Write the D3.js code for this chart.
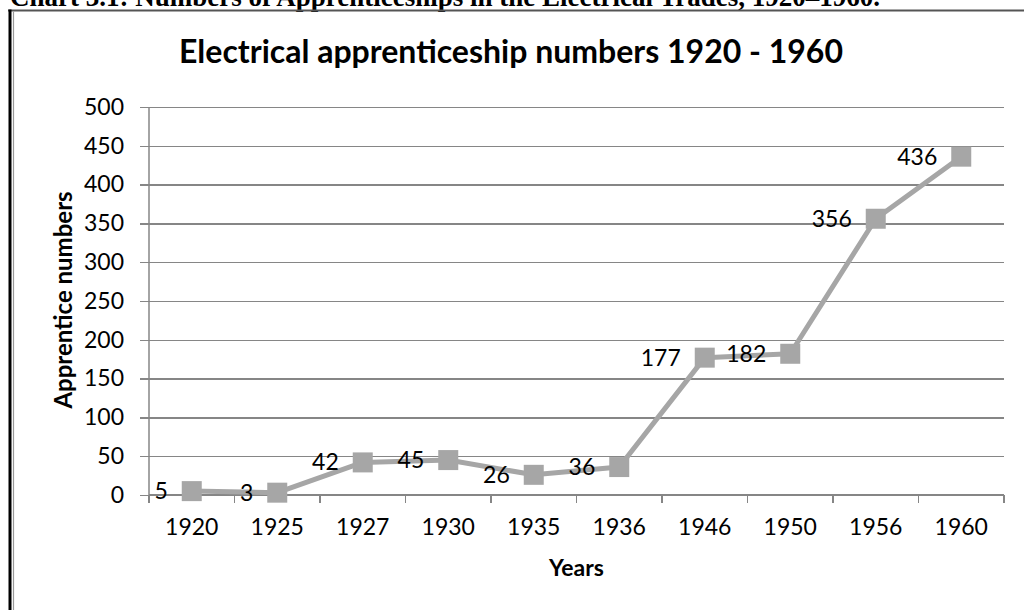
<!DOCTYPE html>
<meta charset="utf-8">
<style>
body{ margin:0; background:#fff; }
.axis text{ font-family: Lato, "Open Sans", sans-serif; font-size:23px; fill:#000; }
.axis path, .axis line{ fill:none; stroke:#868686; stroke-width:1.5px; shape-rendering:crispEdges; }
.grid line{ stroke:#868686; stroke-width:1.5px; shape-rendering:crispEdges; }
.grid path{ display:none; }
.lbl{ font-family: Lato, "Open Sans", sans-serif; font-size:23px; fill:#000; }
</style>
<svg class="chart" width="1024" height="610"></svg>
<script src="https://cdn.jsdelivr.net/npm/d3@7/dist/d3.min.js"></script>
<script>
var years = ["1920","1925","1927","1930","1935","1936","1946","1950","1956","1960"];
var apprentices = [5, 3, 42, 45, 26, 36, 177, 182, 356, 436];
var yTicks = [0, 50, 100, 150, 200, 250, 300, 350, 400, 450, 500];

var data = years.map(function(d, i){ return {year: d, value: apprentices[i]}; });

var margin = {top: 107, right: 20, bottom: 115, left: 149};
var width = 1004 - margin.left,
	height = 495 - margin.top;

var svg = d3.select(".chart");

// page caption, cut off by the top of the picture (as in the source)
svg.append("text")
	.attr("x", 10)
	.attr("y", 6)
	.style("font-family", "'Liberation Serif', 'Times New Roman', serif")
	.style("font-weight", "bold")
	.style("font-size", "27px")
	.text("Chart 3.1: Numbers of Apprenticeships in the Electrical Trades, 1920\u20131960.");

// frame
svg.append("line").attr("x1", 8).attr("x2", 1024).attr("y1", 10.5).attr("y2", 10.5)
	.style("stroke", "#555").style("stroke-width", 2);
svg.append("line").attr("x1", 10).attr("x2", 10).attr("y1", 9.5).attr("y2", 610)
	.style("stroke", "#000").style("stroke-width", 3);
svg.append("line").attr("x1", 13.5).attr("x2", 13.5).attr("y1", 11.5).attr("y2", 610)
	.style("stroke", "#999").style("stroke-width", 1.2);

var x = d3.scaleBand()
	.domain(years)
	.range([0, width])
	.padding(0);

var y = d3.scaleLinear()
	.domain([0, 500])
	.range([height, 0]);

var chart = svg.append("g")
	.attr("transform", "translate(" + margin.left + "," + margin.top + ")");

// gridlines
chart.append("g")
	.attr("class", "grid")
	.call(d3.axisLeft(y).tickValues(yTicks).tickSize(-width).tickFormat(""));

// y axis
chart.append("g")
	.attr("class", "y axis")
	.call(d3.axisLeft(y).tickValues(yTicks).tickSize(9).tickPadding(16))
	.call(function(g){ g.select(".domain").remove(); });
chart.append("line")
	.attr("x1", 0).attr("x2", 0).attr("y1", 0).attr("y2", height)
	.style("stroke", "#868686").style("stroke-width", 1.5);

// x axis, ticks on category boundaries
var xg = chart.append("g")
	.attr("class", "x axis")
	.attr("transform", "translate(0," + height + ")")
	.call(d3.axisBottom(x).tickSize(0).tickPadding(24));
xg.select(".domain").remove();
xg.append("line")
	.attr("x1", 0).attr("x2", width)
	.style("stroke", "#868686").style("stroke-width", 1.5);
xg.selectAll(".bound")
	.data(years.concat(["end"]))
	.enter().append("line")
	.attr("class", "bound")
	.attr("x1", function(d){ return d === "end" ? x.range()[1] : x(d); })
	.attr("x2", function(d){ return d === "end" ? x.range()[1] : x(d); })
	.attr("y1", 0).attr("y2", 8);

// series line
var line = d3.line()
	.x(function(d){ return x(d.year) + x.bandwidth() / 2; })
	.y(function(d){ return y(d.value); });

chart.append("path")
	.datum(data)
	.attr("d", line)
	.style("fill", "none")
	.style("stroke", "#a6a6a6")
	.style("stroke-width", 5)
	.style("stroke-linejoin", "round");

chart.selectAll(".marker")
	.data(data)
	.enter().append("rect")
	.attr("class", "marker")
	.attr("x", function(d){ return x(d.year) + x.bandwidth() / 2 - 10; })
	.attr("y", function(d){ return y(d.value) - 10; })
	.attr("width", 20)
	.attr("height", 20)
	.style("fill", "#a6a6a6");

chart.selectAll(".lbl")
	.data(data)
	.enter().append("text")
	.attr("class", "lbl")
	.attr("x", function(d){ return x(d.year) + x.bandwidth() / 2 - 24; })
	.attr("y", function(d){ return y(d.value); })
	.attr("dy", "0.35em")
	.attr("text-anchor", "end")
	.text(function(d){ return d.value; });

// titles
svg.append("text")
	.attr("x", 511)
	.attr("y", 63)
	.attr("text-anchor", "middle")
	.style("font-family", "Lato, 'Open Sans', sans-serif")
	.style("font-weight", "bold")
	.style("font-size", "32px")
	.text("Electrical apprenticeship numbers 1920 - 1960");

svg.append("text")
	.attr("x", margin.left + width / 2)
	.attr("y", 576)
	.attr("text-anchor", "middle")
	.style("font-family", "Lato, 'Open Sans', sans-serif")
	.style("font-weight", "bold")
	.style("font-size", "23px")
	.text("Years");

svg.append("text")
	.attr("transform", "translate(72,300) rotate(-90)")
	.attr("text-anchor", "middle")
	.style("font-family", "Lato, 'Open Sans', sans-serif")
	.style("font-weight", "bold")
	.style("font-size", "24px")
	.text("Apprentice numbers");
</script>
